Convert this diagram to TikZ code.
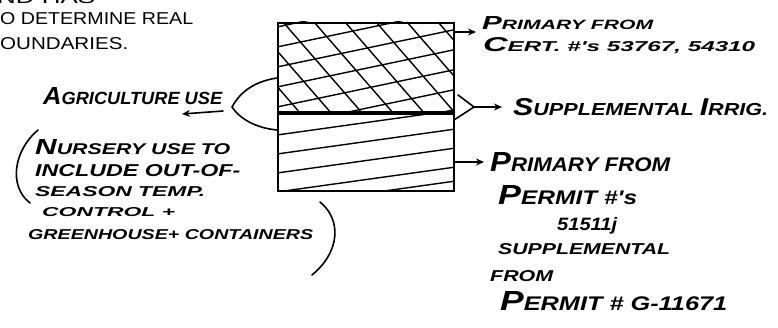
\documentclass[tikz,border=0pt]{standalone}
\usepackage{graphicx}
\usepackage{fontspec}
\usepackage{tikz}
\usetikzlibrary{arrows.meta,positioning,calc}
\newfontfamily\handfont{Liberation Sans}
\newfontfamily\printfont{Liberation Sans}
\newcommand{\hw}[3]{\resizebox{#1pt}{#2pt}{\handfont\bfseries\itshape #3}}
\newcommand{\pw}[3]{\resizebox{#1pt}{#2pt}{\printfont #3}}
\newcommand{\Ini}[1]{\scalebox{1.4}{#1}}

\begin{document}
\begin{tikzpicture}[
    x=1pt, y=-1pt,
    plot/.style={draw, line width=1.8pt, minimum width=176pt, inner sep=0pt, anchor=north west},
    hatchline/.style={line width=1.4pt},
    ink/.style={line width=1.6pt, line cap=round},
    harrow/.style={ink, -{Stealth[length=8pt, width=7pt]}},
    hand/.style={inner sep=0pt, anchor=base west},
    printed/.style={inner sep=0pt, anchor=base west}
]
\useasboundingbox (0,0) rectangle (778,328);
\clip (0,0) rectangle (778,328);

% Printed text at the top left
\node[printed] (txtA) at (-3,4)  {\pw{98}{12}{ND HAS}};
\node[printed] (txtB) at (0,25)  {\pw{193}{12}{O DETERMINE REAL}};
\node[printed] (txtC) at (0,50)  {\pw{128}{12}{OUNDARIES.}};

% Plot -- crosshatched upper part, hatched lower part
\node[plot, minimum height=89pt] (cross) at (277,22) {};
\node[plot, minimum height=77pt] (hatch) at (cross.south west) {};

\begin{scope}
  \clip (cross.south west) rectangle (cross.north east);
  \foreach \v in {27,47,...,167}
    \draw[hatchline] (277,\v) -- ++(176,-37);
  \foreach \u in {190,221,...,440}
    \draw[hatchline] (\u,22) -- ++(90,103.5);
\end{scope}
\begin{scope}
  \clip (hatch.south west) rectangle (hatch.north east);
  \foreach \v in {135,154,173,192,206}
    \draw[hatchline] (277,\v) -- ++(176,-24.6);
\end{scope}

% Left side -- agriculture / nursery
\node[hand] (agr)  at (43,105)  {\hw{179}{17}{\Ini{A}GRICULTURE USE}};
\node[hand] (nur1) at (35,155)  {\hw{195}{15}{\Ini{N}URSERY USE TO}};
\node[hand] (nur2) at (35,177)  {\hw{205}{12}{INCLUDE OUT-OF-}};
\node[hand] (nur3) at (35,197)  {\hw{170}{10}{SEASON TEMP.}};
\node[hand] (nur4) at (42,217)  {\hw{133}{9}{CONTROL +}};
\node[hand] (nur5) at (28,240)  {\hw{285}{10}{GREENHOUSE+ CONTAINERS}};

% Right side -- water sources
\node[hand] (prim1) at (482,30)  {\hw{171}{13}{\Ini{P}RIMARY FROM}};
\node[hand] (cert)  at (483,52)  {\hw{272}{14}{\Ini{C}ERT. \#'s 53767, 54310}};
\node[hand] (supp)  at (513,116) {\hw{255}{17}{\Ini{S}UPPLEMENTAL \Ini{I}RRIG.}};
\node[hand] (prim2) at (490,172) {\hw{180}{19}{\Ini{P}RIMARY FROM}};
\node[hand] (perm1) at (498,205) {\hw{139}{19}{\Ini{P}ERMIT \#'s}};
\node[hand] (num)   at (557,231) {\hw{60}{13}{51511j}};
\node[hand] (supp2) at (498,255) {\hw{172}{11}{SUPPLEMENTAL}};
\node[hand] (from)  at (490,282) {\hw{63}{11}{FROM}};
\node[hand] (perm2) at (500,310) {\hw{227}{19}{\Ini{P}ERMIT \# G-11671}};

% Bracket and parentheses round the nursery note
\coordinate (brtop) at (277,78);
\coordinate (brtip) at (232,107);
\coordinate (brbot) at (277,130);
\draw[ink] (brtop) .. controls (250,82) and (238,96) .. (brtip)
                   .. controls (240,119) and (256,128) .. (brbot);
\draw[ink] (38,130) .. controls (14,150) and (8,186) .. (30,203);
\draw[ink] (320,202) .. controls (342,220) and (340,252) .. (312,275);

% Arrows
\coordinate (agrtail) at (223,111);
\coordinate (agrhead) at (182,114);
\draw[harrow] (agrtail) -- (agrhead);

\coordinate (a1) at (476,32);
\draw[harrow] (cross.east |- a1) -- (a1);

\coordinate (y1) at (458,95);
\coordinate (y2) at (454,120);
\coordinate (yj) at (474,107);
\coordinate (a2) at (502,107);
\draw[ink] (y1) -- (yj);
\draw[ink] (y2) -- (yj);
\draw[harrow] (yj) -- (a2);

\coordinate (a3) at (484,162);
\draw[harrow] (hatch.east |- a3) -- (a3);

\end{tikzpicture}
\end{document}
